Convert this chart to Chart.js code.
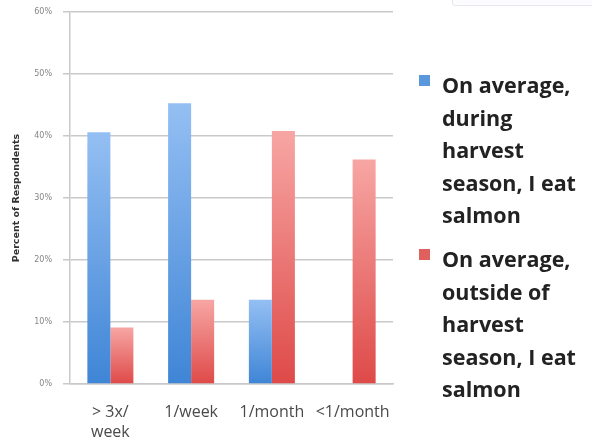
<!DOCTYPE html>
<html>
<head>
<meta charset="utf-8">
<script src="https://cdn.jsdelivr.net/npm/chart.js@4/dist/chart.umd.min.js"></script>
<style>
  html, body { margin: 0; padding: 0; background: #fff; }
  #wrap { position: relative; width: 592px; height: 443px; overflow: hidden; }
  #myChart { position: absolute; left: 0; top: 0; }
  #topBox { position: absolute; left: 452px; top: -12px; width: 150px; height: 16px;
            border: 1px solid #e6e6ee; border-radius: 3px; background: #fcfcfe; }
  .legendItem { position: absolute; left: 419px; font-family: "Open Sans", Lato, sans-serif;
                font-weight: bold; font-size: 21.5px; line-height: 32.5px; color: #222; }
  .legendItem .box { position: absolute; left: 0; top: 6px; width: 11px; height: 11px; }
  .legendItem .txt { margin-left: 23px; white-space: nowrap; }
</style>
</head>
<body>
<div id="wrap">
  <canvas id="myChart" width="592" height="443"></canvas>
  <div id="topBox"></div>
  <div id="legend"></div>
</div>
<script>
// categories and values (percent of respondents)
const categories = [["> 3x/", "week"], "1/week", "1/month", "<1/month"];
const duringSeason = [40.6, 45.3, 13.6, 0];
const outsideSeason = [9.1, 13.6, 40.8, 36.2];
const yTicks = [0, 10, 20, 30, 40, 50, 60];

const duringLines = ["On average,", "during", "harvest", "season, I eat", "salmon"];
const outsideLines = ["On average,", "outside of", "harvest", "season, I eat", "salmon"];

// vertical gradient per bar, light at the top and darker at the base
function barFill(light, dark) {
    return function(c) {
        const chart = c.chart;
        if (!chart.chartArea || c.type !== 'data') return dark;
        const y = chart.scales.y;
        const top = y.getPixelForValue(c.raw);
        const base = y.getPixelForValue(0);
        if (base - top < 1) return dark;
        const g = chart.ctx.createLinearGradient(0, top, 0, base);
        g.addColorStop(0, light);
        g.addColorStop(1, dark);
        return g;
    };
}

const gridColor = "#c9c9c9";

const config = {
    type: "bar",
    data: {
        labels: categories,
        datasets: [
            {
                label: duringLines.join(" "),
                data: duringSeason,
                backgroundColor: barFill("#94bff3", "#3f85d6"),
                hoverBackgroundColor: barFill("#94bff3", "#3f85d6"),
                _legendColor: "#5b97dc",
            },
            {
                label: outsideLines.join(" "),
                data: outsideSeason,
                backgroundColor: barFill("#f7a6a4", "#de4a48"),
                hoverBackgroundColor: barFill("#f7a6a4", "#de4a48"),
                _legendColor: "#e0605e",
            },
        ],
    },
    options: {
        responsive: false,
        animation: false,
        layout: { padding: { top: 12, right: 199, left: 0, bottom: 0 } },
        datasets: {
            bar: { categoryPercentage: 0.57, barPercentage: 1.0 },
        },
        plugins: {
            legend: { display: false },
            tooltip: { enabled: false },
        },
        scales: {
            x: {
                grid: { display: false, drawTicks: false },
                border: { color: gridColor, width: 1.5 },
                ticks: {
                    color: "#4a4a4a",
                    font: { family: "'Open Sans', Lato, sans-serif", size: 16, lineHeight: 1.25 },
                    padding: 18,
                    maxRotation: 0,
                    autoSkip: false,
                },
                afterFit: function(scale) {
                    scale.height = 59;
                    scale.paddingLeft = 0;
                    scale.paddingRight = 0;
                },
            },
            y: {
                min: 0,
                max: 60,
                afterBuildTicks: function(scale) {
                    scale.ticks = yTicks.map(function(v) { return { value: v }; });
                },
                grid: { color: gridColor, lineWidth: 1.5, tickLength: 7 },
                border: { color: gridColor, width: 1.5 },
                ticks: {
                    color: "#858585",
                    font: { family: "'DejaVu Sans', sans-serif", size: 8 },
                    padding: 11,
                    callback: function(v) { return v + "%"; },
                },
                title: {
                    display: true,
                    text: "Percent of Respondents",
                    color: "#333",
                    font: { family: "'DejaVu Sans', sans-serif", size: 9.5, weight: "bold" },
                    padding: { top: 11, bottom: 0 },
                },
                afterFit: function(scale) {
                    scale.width = 70;
                    scale.paddingTop = 0;
                    scale.paddingBottom = 0;
                },
            },
        },
    },
};

const canvasElement = document.getElementById("myChart");
const myChart = new Chart(canvasElement, config);

// legend on the right, one block of wrapped lines per series
const legendTops = [69, 243];
const legendLines = [duringLines, outsideLines];
const legendEl = document.getElementById("legend");
myChart.data.datasets.forEach(function(ds, i) {
    const item = document.createElement("div");
    item.className = "legendItem";
    item.style.top = legendTops[i] + "px";
    const box = document.createElement("div");
    box.className = "box";
    box.style.background = ds._legendColor;
    const txt = document.createElement("div");
    txt.className = "txt";
    txt.innerHTML = legendLines[i].join("<br>");
    item.appendChild(box);
    item.appendChild(txt);
    legendEl.appendChild(item);
});
</script>
</body>
</html>
